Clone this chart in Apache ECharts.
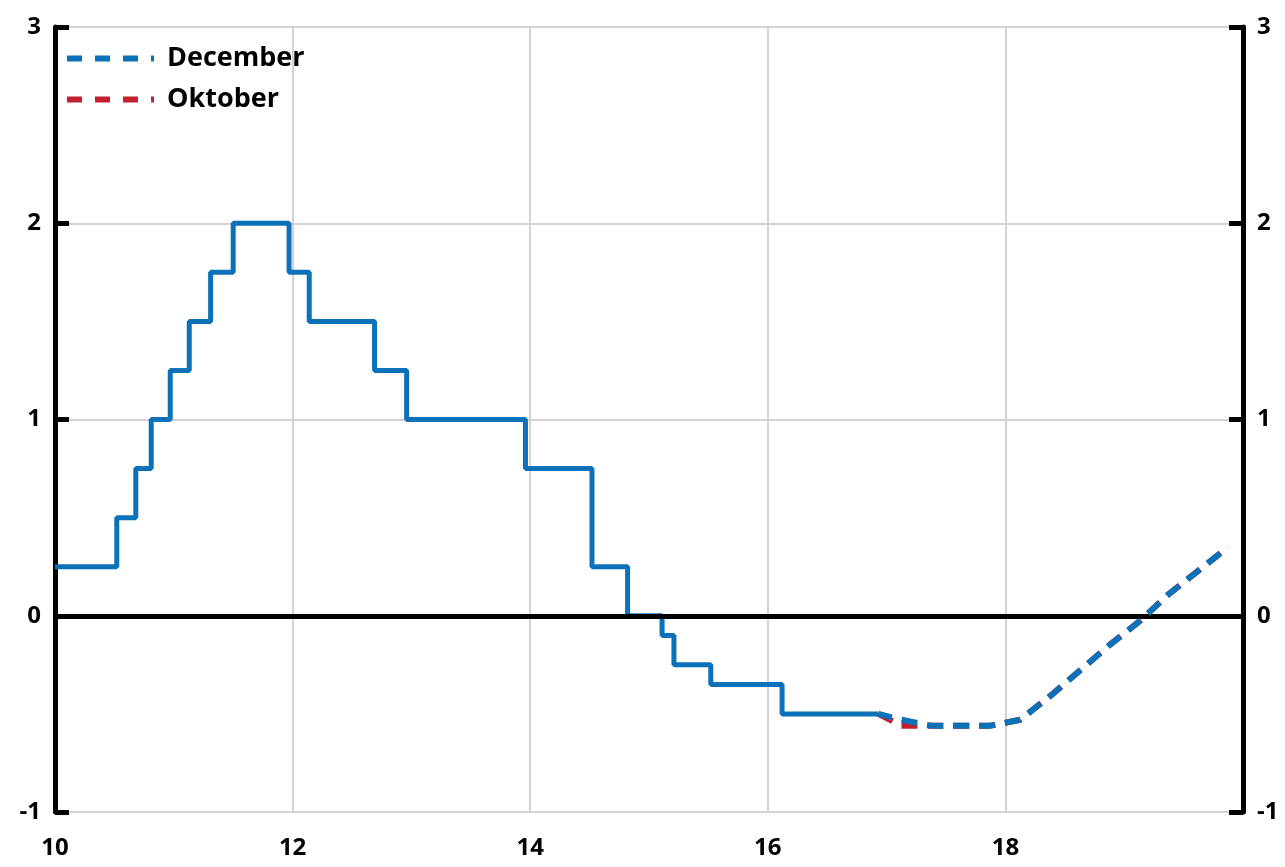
<!DOCTYPE html>
<html>
<head>
<meta charset="utf-8">
<script src="https://cdn.jsdelivr.net/npm/echarts@6/dist/echarts.min.js"></script>
<style>
html,body{margin:0;padding:0;background:#fff;}
#chart{width:1285px;height:867px;}
</style>
</head>
<body>
<div id="chart"></div>
<script>
// Outcome (repo rate steps): change dates (decimal years, 10 = 2010) and levels
const histX = [10.0, 10.52, 10.68, 10.81, 10.97, 11.13, 11.31, 11.50, 11.97, 12.14, 12.69, 12.96, 13.96, 14.52, 14.82, 15.11, 15.21, 15.52, 16.12, 16.93];
const histY = [0.25, 0.50, 0.75, 1.00, 1.25, 1.50, 1.75, 2.00, 1.75, 1.50, 1.25, 1.00, 0.75, 0.25, 0.00, -0.10, -0.25, -0.35, -0.50, -0.50];

// Forecasts
const forecastX = [16.93, 17.125, 17.375, 17.625, 17.875, 18.125, 18.375, 18.625, 18.875, 19.125, 19.375, 19.625, 19.875];
const decemberY = [-0.50, -0.53, -0.56, -0.56, -0.56, -0.53, -0.41, -0.28, -0.15, -0.03, 0.11, 0.23, 0.35];
const oktoberY  = [-0.50, -0.56, -0.56, -0.56, -0.56, -0.53, -0.41, -0.28, -0.15, -0.03, 0.11, 0.23, 0.35];

const xTicks = [10, 12, 14, 16, 18, 20];
const yTicks = [-1, 0, 1, 2, 3];

const BLUE = '#0b71b9';
const RED = '#c3202e';
const FONT = 'Open Sans';
const DASH_ICON = 'path://M0,0h15v6h-15z M28,0h15v6h-15z M56,0h15v6h-15z M84,0h3v6h-3z';

const pairs = (xs, ys) => xs.map((x, i) => [x, ys[i]]);

const chart = echarts.init(document.getElementById('chart'));
const yAxisBase = {
  type: 'value', min: -1, max: 3, interval: 1,
  axisLine: { show: true, lineStyle: { color: '#000', width: 5 } },
  axisTick: { show: true, inside: true, length: 14, lineStyle: { color: '#000', width: 5 } },
  axisLabel: { color: '#000', fontFamily: FONT, fontWeight: 'bold', fontSize: 24, margin: 14 },
  splitLine: { show: true, lineStyle: { color: '#d3d3d3', width: 2 } }
};
chart.setOption({
  animation: false,
  backgroundColor: '#fff',
  grid: { left: 55, right: 42, top: 27, bottom: 55, containLabel: false },
  legend: {
    data: [
      { name: 'December', icon: DASH_ICON, itemStyle: { color: BLUE } },
      { name: 'Oktober', icon: DASH_ICON, itemStyle: { color: RED } }
    ],
    orient: 'vertical', left: 62, top: 40,
    itemWidth: 87, itemHeight: 6, itemGap: 14,
    textStyle: { color: '#000', fontFamily: FONT, fontWeight: 'bold', fontSize: 27, padding: [0, 0, 0, 8] }
  },
  xAxis: {
    type: 'value', min: 10, max: 20, interval: 2,
    axisLine: { show: false },
    axisTick: { show: false },
    axisLabel: {
      color: '#000', fontFamily: FONT, fontWeight: 'bold', fontSize: 24, margin: 24,
      formatter: v => xTicks.includes(v) && v < 20 ? String(v) : ''
    },
    splitLine: { show: true, lineStyle: { color: '#d3d3d3', width: 2 } }
  },
  yAxis: [
    Object.assign({}, yAxisBase, { position: 'left' }),
    Object.assign({}, yAxisBase, { position: 'right', splitLine: { show: false } })
  ],
  series: [
    {
      name: 'Utfall', type: 'line', step: 'end', symbol: 'none',
      data: pairs(histX, histY),
      lineStyle: { color: BLUE, width: 5 },
      z: 3,
      markLine: {
        silent: true, symbol: 'none', label: { show: false },
        lineStyle: { color: '#000', width: 5, type: 'solid' },
        data: [{ yAxis: 0 }]
      }
    },
    {
      name: 'Oktober', type: 'line', symbol: 'none',
      data: pairs(forecastX, oktoberY),
      itemStyle: { color: RED },
      lineStyle: { color: RED, width: 6, type: [16, 10] },
      z: 4
    },
    {
      name: 'December', type: 'line', symbol: 'none',
      data: pairs(forecastX, decemberY),
      itemStyle: { color: BLUE },
      lineStyle: { color: BLUE, width: 6, type: [16, 10], dashOffset: 2 },
      z: 5
    }
  ]
});
</script>
</body>
</html>
